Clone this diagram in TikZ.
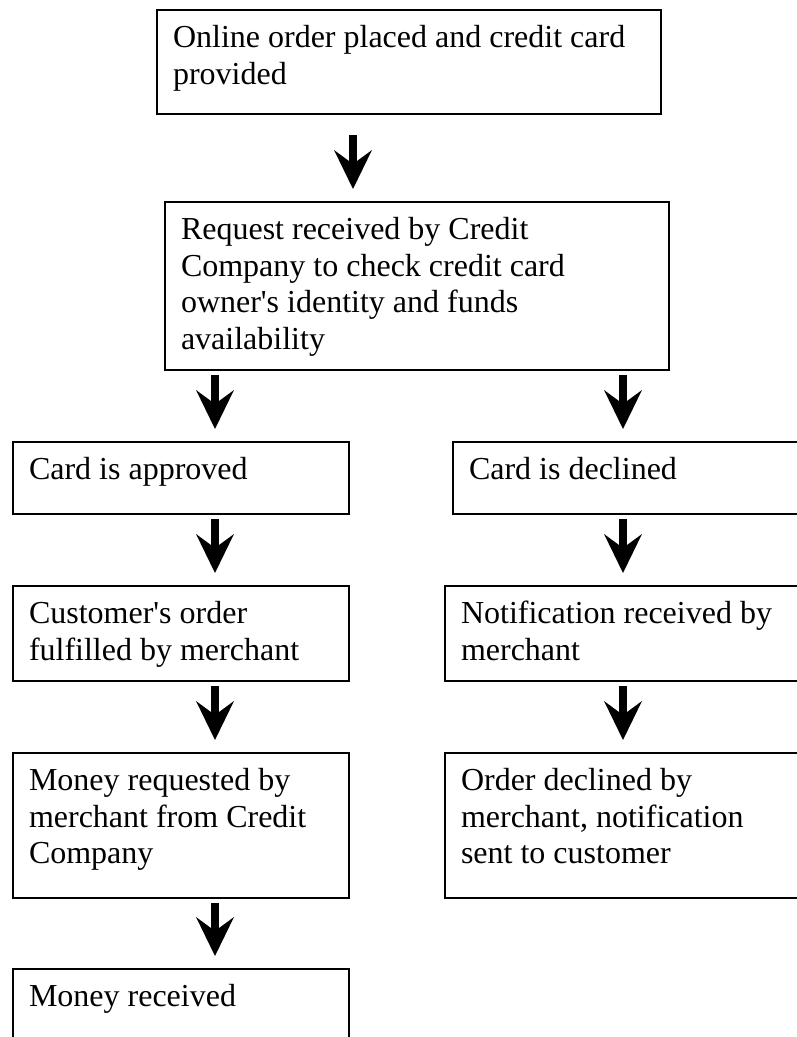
\documentclass[tikz,border=0pt]{standalone}
\usepackage{fontspec}
\setmainfont{Liberation Serif}
\usetikzlibrary{arrows.meta}
\tikzstyle{flowbox} = [rectangle, draw=black, line width=2pt, anchor=north west, inner xsep=16pt, inner ysep=0pt, text height=37.5pt, align=left, font=\fontsize{32}{36.5}\selectfont, execute at begin node={\spaceskip=8pt\relax}]
\tikzstyle{bigarrow} = [line width=8pt, -{Stealth[length=39pt, width=38pt, inset=14pt, line width=0pt]}, shorten <=4pt, shorten >=12pt]

\begin{document}
\begin{tikzpicture}[x=1pt, y=-1pt]
\fill[white] (0,0) rectangle (796,1037);
\useasboundingbox (0,0) rectangle (796,1037);

% Columns for the arrows
\coordinate (mcol) at (353,0);
\coordinate (lcol) at (215,0);
\coordinate (rcol) at (623,0);

% Order and check
\node (order) [flowbox, text width=472pt, text depth=66.5pt] at (156,9) {Online order placed and credit card\\provided};
\node (request) [flowbox, text width=472pt, text depth=130.5pt] at (164,201) {Request received by Credit\\Company to check credit card\\owner\textquotesingle s identity and funds\\availability};

% Approved branch
\node (approved) [flowbox, text width=304pt, text depth=34.5pt] at (12,441) {Card is approved};
\node (fulfilled) [flowbox, text width=304pt, text depth=57.5pt] at (12,585) {Customer\textquotesingle s order\\fulfilled by merchant};
\node (moneyreq) [flowbox, text width=304pt, text depth=107.5pt] at (12,752) {Money requested by\\merchant from Credit\\Company};
\node (moneyrec) [flowbox, text width=304pt, text depth=52.5pt] at (12,968) {Money received};

% Declined branch
\node (declined) [flowbox, text width=328pt, text depth=34.5pt] at (452,441) {Card is declined};
\node (notified) [flowbox, text width=336pt, text depth=57.5pt] at (444,585) {Notification received by\\merchant};
\node (orderdecl) [flowbox, text width=336pt, text depth=107.5pt] at (444,752) {Order declined by\\merchant, notification\\sent to customer};

% Arrows
\draw[bigarrow, shorten <=20pt] (order.south -| mcol) -- (request.north -| mcol);
\draw[bigarrow] (request.south -| lcol) -- (approved.north -| lcol);
\draw[bigarrow] (approved.south -| lcol) -- (fulfilled.north -| lcol);
\draw[bigarrow] (fulfilled.south -| lcol) -- (moneyreq.north -| lcol);
\draw[bigarrow] (moneyreq.south -| lcol) -- (moneyrec.north -| lcol);
\draw[bigarrow] (request.south -| rcol) -- (declined.north -| rcol);
\draw[bigarrow] (declined.south -| rcol) -- (notified.north -| rcol);
\draw[bigarrow] (notified.south -| rcol) -- (orderdecl.north -| rcol);
\end{tikzpicture}
\end{document}
